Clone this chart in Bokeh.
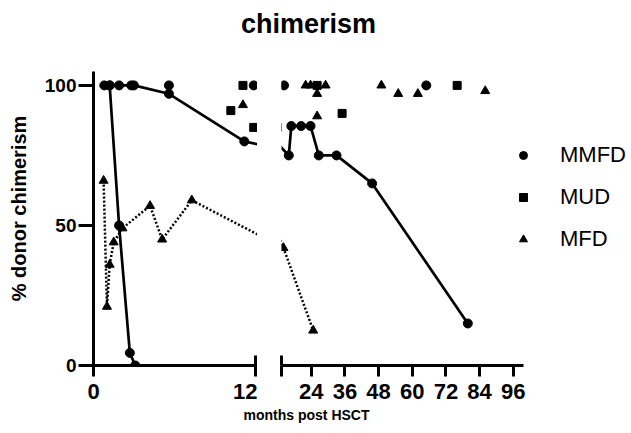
from bokeh.plotting import figure
from bokeh.models import FixedTicker, Legend, LegendItem, Label, Range1d, CustomJSTickFormatter
from bokeh.layouts import column, row
from bokeh.embed import file_html
from bokeh.resources import INLINE

FONT = "Liberation Sans"

# ---------------- data (months post HSCT, % donor chimerism) ----------------
# MMFD patient lines (solid)
mmfd_a_x = [0.8, 1.2, 1.9, 2.8, 3.0, 5.6, 11.2, 16, 16.9, 20.4, 23.75, 26.7, 33, 45.7, 79.8]
mmfd_a_y = [100, 100, 100, 100, 100, 97, 80, 75, 85.5, 85.5, 85.5, 75, 75, 65, 15]
mmfd_b_x = [1.2, 1.9, 2.7, 3.1]
mmfd_b_y = [100, 50, 4.5, 0]
# MMFD single points
mmfd_s_x = [5.6, 11.9, 14.3, 65]
mmfd_s_y = [100, 100, 100, 100]

# MUD single points
mud_x = [10.2, 11.1, 11.9, 26.1, 35, 76]
mud_y = [91, 100, 85, 100, 90, 100]

# MFD patient line (dotted)
mfd_l_x = [0.75, 1.0, 1.2, 1.5, 2.15, 4.2, 5.1, 7.3, 14.1, 24.7]
mfd_l_y = [66, 21, 36, 44, 49, 57, 45, 59, 42, 12.5]
# MFD single points
mfd_s_x = [11.1, 22, 23.75, 26.1, 26.1, 29.1, 49, 55, 62, 86]
mfd_s_y = [93, 100, 100, 97, 89, 100, 100, 97, 97, 98]

y_ticks = [0, 50, 100]
x_ticks_left = [0, 12]
x_ticks_right = [24, 36, 48, 60, 72, 84, 96]

Y0, Y1 = 0, 112.1
ROW_H = 364
RIGHT_START = 13.4
RIGHT_END = 99.7


def base(width, xr, mbl, mbr):
    p = figure(width=width, height=ROW_H, x_range=Range1d(*xr), y_range=Range1d(Y0, Y1),
               output_backend="svg", toolbar_location=None, title=None,
               min_border_left=mbl, min_border_right=mbr, min_border_top=10,
               min_border_bottom=40)
    p.outline_line_color = None
    p.grid.visible = False
    return p


def draw(p):
    p.line(mmfd_a_x, mmfd_a_y, line_width=2.7, line_color="black")
    p.line(mmfd_b_x, mmfd_b_y, line_width=2.7, line_color="black")
    p.line(mfd_l_x, mfd_l_y, line_width=2.5, line_color="black", line_dash="2 2")
    r1 = p.scatter(mmfd_a_x + mmfd_b_x + mmfd_s_x, mmfd_a_y + mmfd_b_y + mmfd_s_y,
                   marker="circle", size=9, color="black")
    r2 = p.scatter(mud_x, mud_y, marker="square", size=8, color="black")
    r3 = p.scatter(mfd_l_x + mfd_s_x, mfd_l_y + mfd_s_y, marker="triangle", size=9,
                   color="black")
    return r1, r2, r3


def style_x(ax, ticks):
    ax.ticker = FixedTicker(ticks=ticks)
    ax.axis_line_width = 3
    ax.axis_line_color = "black"
    ax.major_tick_line_width = 3
    ax.major_tick_line_color = "black"
    ax.major_tick_out = 11
    ax.minor_tick_line_color = None
    ax.major_label_text_font = FONT
    ax.major_label_text_font_size = "22px"
    ax.major_label_text_font_style = "bold"
    ax.major_label_text_color = "black"
    ax.major_label_standoff = 7


# left segment
p1 = base(257, (0, 12.18), 93, 0)
draw(p1)
xa = p1.xaxis[0]
style_x(xa, x_ticks_left)
xa.bounds = (0, 12)
xa.major_tick_in = 10
ya = p1.yaxis[0]
ya.ticker = FixedTicker(ticks=y_ticks)
ya.bounds = (0, 105)
ya.axis_line_width = 3
ya.axis_line_color = "black"
ya.major_tick_line_width = 3
ya.major_tick_line_color = "black"
ya.major_tick_out = 15
ya.major_tick_in = 0
ya.minor_tick_line_color = None
ya.major_label_text_font = FONT
ya.major_label_text_font_size = "19px"
ya.major_label_text_font_style = "bold"
ya.major_label_text_color = "black"
ya.major_label_standoff = 2
ya.axis_label = "% donor chimerism"
ya.axis_label_text_font = FONT
ya.axis_label_text_font_size = "20px"
ya.axis_label_text_font_style = "bold"
ya.axis_label_text_color = "black"
ya.axis_label_standoff = 12

# right segment (frame extends under the legend; axis line limited by bounds)
p2 = base(374, (RIGHT_START, RIGHT_START + 350 / 2.806), 24, 0)
r1, r2, r3 = draw(p2)
xb = p2.xaxis[0]
style_x(xb, [RIGHT_START] + x_ticks_right)
xb.bounds = (RIGHT_START, RIGHT_END)
xb.formatter = CustomJSTickFormatter(code="return tick < 20 ? '' : tick.toFixed(0);")
xb.major_tick_in = 0
yb = p2.yaxis[0]
yb.ticker = FixedTicker(ticks=[])
yb.bounds = (0, 3.6)
yb.axis_line_width = 3
yb.axis_line_color = "black"
yb.major_tick_out = 0
yb.major_tick_in = 0
yb.minor_tick_line_color = None
yb.major_label_text_font_size = "0px"
yb.major_label_standoff = 0

legend = Legend(items=[LegendItem(label="MMFD", renderers=[r1]),
                       LegendItem(label="MUD", renderers=[r2]),
                       LegendItem(label="MFD", renderers=[r3])],
                location=(232, 113), glyph_width=20, glyph_height=20, label_height=20,
                spacing=16, padding=0, margin=0, label_standoff=27,
                label_text_font=FONT, label_text_font_size="22px",
                label_text_color="black",
                background_fill_alpha=0, border_line_color=None)
p2.add_layout(legend)

# title strip
pt = figure(width=631, height=41, x_axis_type=None, y_axis_type=None, output_backend="svg",
            toolbar_location=None, title=None, min_border=0)
pt.outline_line_color = None
pt.add_layout(Label(x=308, y=18, x_units="screen", y_units="screen", text="chimerism",
                    text_align="center", text_baseline="middle", text_font=FONT,
                    text_font_size="27px", text_font_style="bold", text_color="black"))

# x-axis label strip
pb = figure(width=631, height=28, x_axis_type=None, y_axis_type=None, output_backend="svg",
            toolbar_location=None, title=None, min_border=0)
pb.outline_line_color = None
pb.add_layout(Label(x=306, y=19, x_units="screen", y_units="screen", text="months post HSCT",
                    text_align="center", text_baseline="middle", text_font=FONT,
                    text_font_size="14px", text_font_style="bold", text_color="black"))

layout = column(pt, row(p1, p2), pb)
open("out.html", "w").write(file_html(layout, INLINE))
